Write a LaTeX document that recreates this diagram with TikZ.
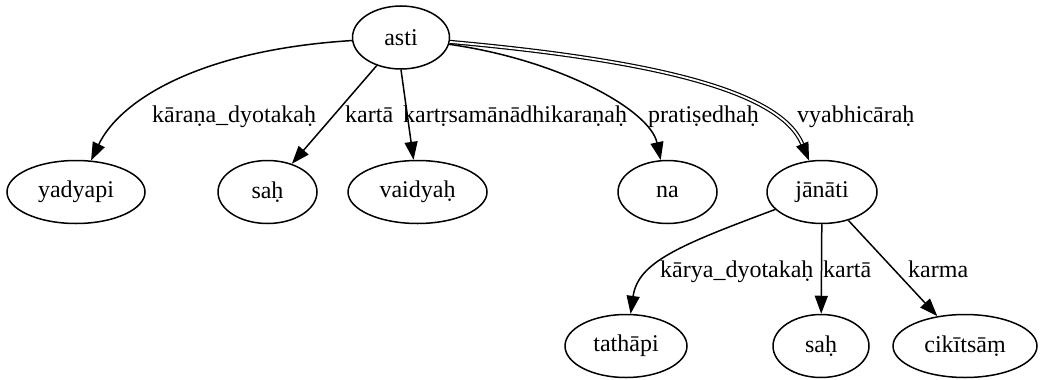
\documentclass[tikz,border=0pt]{standalone}
\usepackage{fontspec}
\setmainfont{Liberation Serif}
\usepackage{tikz}
\usetikzlibrary{shapes.geometric, arrows.meta}

\begin{document}
\begin{tikzpicture}
    [x=1pt, y=-1pt,
    wordnode/.style={ellipse, draw=black, line width=1.5pt, inner sep=0pt, minimum height=63pt, font=\fontsize{24}{28}\selectfont},
    edgelabel/.style={anchor=base west, inner sep=0pt, font=\fontsize{24}{28}\selectfont},
    arc/.style={line width=1.5pt, -{Triangle[length=18pt, width=13pt]}},]

    \useasboundingbox (0,0) rectangle (1041,380);

    %Nodes
    \node[wordnode, minimum width=97pt](asti) at (401,37.5) {asti};
    \node[wordnode, minimum width=138pt](yadyapi) at (76,192) {yadyapi};
    \node[wordnode, minimum width=99pt](sah1) at (267.5,192) {saḥ};
    \node[wordnode, minimum width=139pt](vaidyah) at (417.5,192) {vaidyaḥ};
    \node[wordnode, minimum width=99pt](na) at (667.5,192) {na};
    \node[wordnode, minimum width=110pt](janati) at (822,192) {jānāti};
    \node[wordnode, minimum width=122pt](tathapi) at (626,346) {tathāpi};
    \node[wordnode, minimum width=96pt](sah2) at (821,346) {saḥ};
    \node[wordnode, minimum width=144pt](cikitsam) at (965,346) {cikītsāṃ};

    %Labels
    \node[edgelabel](karanalabel) at (152,122) {kāraṇa\_dyotakaḥ};
    \node[edgelabel](kartalabel1) at (345,122) {kartā};
    \node[edgelabel](samanalabel) at (403,122) {kartṛsamānādhikaraṇaḥ};
    \node[edgelabel](pratisedhalabel) at (648,122) {pratiṣedhaḥ};
    \node[edgelabel](vyabhicaralabel) at (797,122) {vyabhicāraḥ};
    \node[edgelabel](karyalabel) at (660,277) {kārya\_dyotakaḥ};
    \node[edgelabel](kartalabel2) at (823,277) {kartā};
    \node[edgelabel](karmalabel) at (908,277) {karma};

    %Lines
    \draw[arc](asti) .. controls (200,50) and (120,100) .. (yadyapi);
    \draw[arc](asti)--(sah1);
    \draw[arc](asti.south)--(vaidyah.97);
    \draw[arc](asti) .. controls (560,60) and (650,110) .. (na);
    \draw[arc, double, double distance=1.8pt, line width=1.2pt](asti) .. controls (650,60) and (780,90) .. (janati);
    \draw[arc](janati) .. controls (680,245) and (638,262) .. (tathapi);
    \draw[arc](janati)--(sah2);
    \draw[arc](janati)--(cikitsam);

\end{tikzpicture}
\end{document}
